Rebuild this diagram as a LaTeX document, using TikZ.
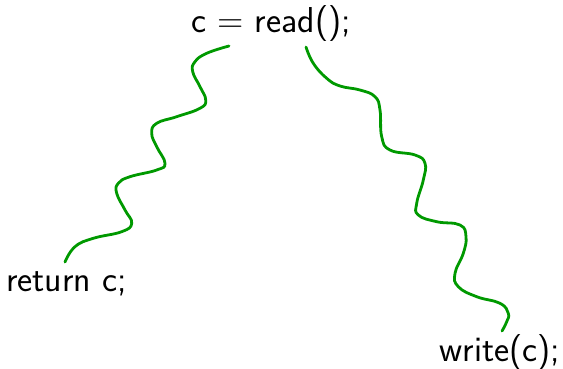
\documentclass[tikz,border=0pt]{standalone}
\begin{document}
\begin{tikzpicture}[x=0.5pt,y=-0.5pt,
  code/.style={font=\sffamily\fontsize{18}{21}\selectfont, inner sep=0pt, anchor=base},
  wave/.style={draw=green!60!black, line width=1.4pt, line cap=round}]
\useasboundingbox (0,0) rectangle (563,369);

% statements
\node[code] (cmd) at (271,33) {c = read();};
\node[code] (ret) at (66.5,292) {return c;};
\node[code] (out) at (500,361) {write(c);};

% ends of the wavy links
\coordinate (l0) at (229,46);
\coordinate (l1) at (65,262);
\coordinate (r0) at (306,47);
\coordinate (r1) at (502,331);

% read -> return
\draw[wave] plot[smooth, tension=0.75] coordinates {
  (l0) (206.7,53.3) (195,61.7) (192.7,71.7) (200,86.7) (205.7,100)
  (200,108.3) (176.7,116.7) (156.7,123.3) (151.7,133.3) (156.7,146.7)
  (165,163.3) (156.7,170) (130,176.7) (118.3,183.3) (116.7,193.3)
  (125,210) (131.7,223.3) (121.7,231.7) (93.3,238.3) (75,246.7) (l1)};

% read -> write
\draw[wave] plot[smooth, tension=0.75] coordinates {
  (r0) (313.3,63.3) (326.7,78.3) (340,86) (360,90) (375,96.7)
  (380,110) (381.7,136.7) (390,150) (415,155) (425,163.3)
  (423.3,180) (416.7,203.3) (418.3,215) (436.7,221.7) (460,225)
  (466,236.7) (463.3,253.3) (455,273.3) (458.3,286.7) (476.7,296.7)
  (500,303.3) (508.3,313.3) (506.7,321.7) (r1)};
\end{tikzpicture}
\end{document}
